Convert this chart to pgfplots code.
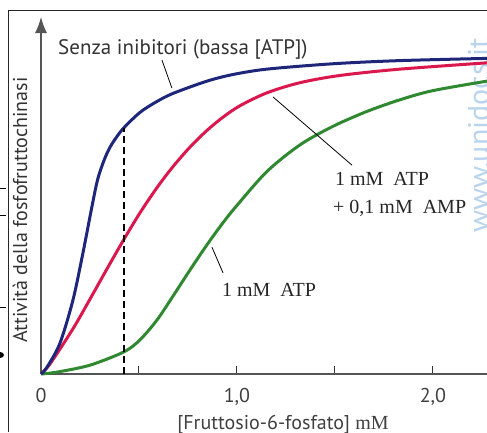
\documentclass[border=0pt]{standalone}
\usepackage{fontspec}
\setmainfont{Liberation Serif}
\newfontfamily\lab{PT Sans}
\usepackage{pgfplots}
\pgfplotsset{compat=1.18}
\usetikzlibrary{arrows.meta}

\definecolor{pfkblue}{RGB}{30,38,122}
\definecolor{pfkred}{RGB}{218,24,78}
\definecolor{pfkgreen}{RGB}{48,136,48}
\definecolor{wmark}{RGB}{185,212,236}
\definecolor{axgray}{RGB}{85,85,85}

\begin{document}
\begin{tikzpicture}
\useasboundingbox (0,0) rectangle (487pt,432pt);
\clip (0,0) rectangle (487pt,432pt);

% frame and cut-off bits of the neighbouring figure
\draw[line width=0.9pt, black!85] (8.5pt,0) -- (8.5pt,421.5pt) -- (487pt,421.5pt);
\draw[line width=0.8pt] (0,244pt) -- (6pt,244pt);
\draw[line width=0.8pt] (0,217pt) -- (6pt,217pt);
\draw[line width=0.8pt] (0,125pt) -- (6pt,125pt);
\fill (0,77pt) ellipse (4pt and 3pt);

% watermark
\node[rotate=90, anchor=base west, text=wmark, font=\lab\fontsize{30}{30}\selectfont, inner sep=0pt]
  at (489pt,199pt) {www.unidocs.it};

% y label
\node[rotate=90, font=\lab\fontsize{20}{22}\selectfont, text=black!80] at (20pt,222pt)
  {Attività della fosfofruttochinasi};

\begin{axis}[
    at={(41pt,58pt)}, anchor=south west,
    scale only axis, width=446pt, height=357pt,
    xmin=0, xmax=2.276, ymin=0, ymax=1.13,
    axis x line*=bottom, axis y line*=left,
    x axis line style={line width=1.3pt, axgray},
    y axis line style={line width=1.3pt, axgray, -{Latex[length=16pt,width=12pt]}},
    xtick={0,0.5,1,1.5,2}, xticklabels={0,,1{,}0,,2{,}0},
    ytick=\empty,
    tick align=inside, major tick length=8pt,
    tick style={line width=1pt, black!80},
    xticklabel style={font=\lab\fontsize{20}{22}\selectfont, text=black!75,
        anchor=base, yshift=-28pt},
    clip=false,
]
% 1 mM ATP + 0,1 mM AMP
\addplot[pfkred, line width=3pt, smooth] coordinates {
    (0,0) (0.046,0.032) (0.163,0.143) (0.250,0.237) (0.337,0.333)
    (0.423,0.426) (0.505,0.510) (0.592,0.590) (0.673,0.656) (0.760,0.718)
    (0.847,0.771) (0.929,0.813) (1.015,0.849) (1.153,0.890) (1.321,0.922)
    (1.526,0.945) (1.832,0.965) (2.276,0.985)
};
% 1 mM ATP
\addplot[pfkgreen, line width=3pt, smooth] coordinates {
    (0,0) (0.082,0.006) (0.250,0.028) (0.423,0.070) (0.505,0.108)
    (0.592,0.171) (0.673,0.246) (0.760,0.329) (0.847,0.409) (0.929,0.479)
    (0.995,0.530) (1.153,0.641) (1.321,0.725) (1.490,0.784) (1.663,0.831)
    (1.832,0.868) (2.000,0.897) (2.276,0.927)
};
% senza inibitori
\addplot[pfkblue, line width=3pt, smooth] coordinates {
    (0,0) (0.031,0.022) (0.097,0.098) (0.163,0.234) (0.214,0.383)
    (0.265,0.546) (0.290,0.618) (0.316,0.667) (0.340,0.703) (0.367,0.733)
    (0.418,0.776) (0.505,0.828) (0.590,0.862) (0.673,0.888) (0.847,0.927)
    (0.980,0.948) (1.153,0.965) (1.490,0.982) (1.832,0.992) (2.276,0.999)
};
% dashed marker at the blue curve
\addplot[black, line width=1.3pt, dash pattern=on 7pt off 4pt] coordinates {(0.423,0) (0.423,0.78)};

% pointers
\draw[line width=0.8pt] (axis cs:0.617,0.994) -- (axis cs:0.668,0.905);
\draw[line width=0.8pt] (axis cs:1.184,0.877) -- (axis cs:1.587,0.661);
\draw[line width=0.8pt] (axis cs:0.872,0.402) -- (axis cs:0.929,0.320);

% labels
\node[anchor=base west, inner sep=0pt, font=\lab\fontsize{21}{24}\selectfont, text=black!80]
  at (axis cs:0.087,1.012) {Senza inibitori (bassa [ATP])};
\node[anchor=base west, inner sep=0pt, font=\fontsize{20}{22}\selectfont, text=black!85]
  at (axis cs:1.500,0.598) {1 mM\ \ ATP};
\node[anchor=base west, inner sep=0pt, font=\fontsize{20}{22}\selectfont, text=black!85]
  at (axis cs:1.490,0.509) {+ 0,1 mM\ \ AMP};
\node[anchor=base west, inner sep=0pt, font=\fontsize{20}{22}\selectfont, text=black!85]
  at (axis cs:0.923,0.244) {1 mM\ \ ATP};
\node[anchor=base, inner sep=0pt, font=\lab\fontsize{20}{22}\selectfont, text=black!75]
  at (axis cs:1.235,-0.177) {[Fruttosio-6-fosfato] {\rmfamily mM}};
\end{axis}
\end{tikzpicture}
\end{document}
